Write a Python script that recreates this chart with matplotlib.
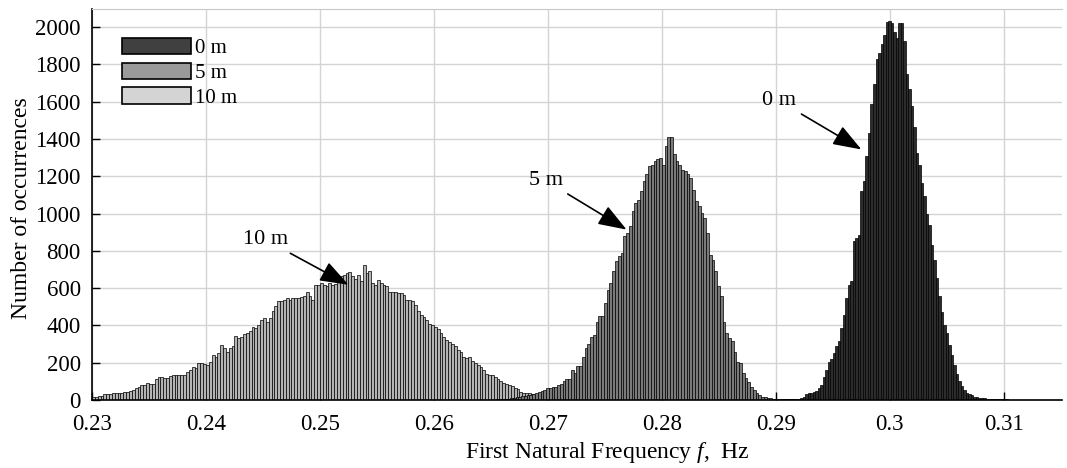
import matplotlib
matplotlib.use("Agg")
import matplotlib.pyplot as plt
import numpy as np

plt.rcParams['font.family'] = ['Liberation Serif', 'DejaVu Serif']
plt.rcParams['mathtext.fontset'] = 'custom'
plt.rcParams['mathtext.rm'] = 'Liberation Serif'
plt.rcParams['mathtext.it'] = 'Liberation Serif:italic'

# histogram of first natural frequency (Hz), bins: start edge + width
start_10m = 0.23
width_10m = 0.00025
counts_10m = [18, 18, 20, 22, 30, 30, 32, 36, 36, 38,
              40, 45, 45, 50, 54, 65, 72, 81, 78, 90,
              88, 86, 110, 125, 125, 120, 116, 129, 134, 134,
              135, 134, 136, 150, 161, 179, 170, 197, 201, 195,
              188, 206, 242, 233, 250, 296, 278, 260, 278, 290,
              344, 335, 337, 355, 358, 370, 394, 385, 403, 430,
              439, 421, 440, 475, 502, 529, 530, 538, 547, 538,
              545, 547, 547, 550, 556, 582, 556, 538, 618, 618,
              627, 618, 613, 627, 618, 620, 645, 663, 672, 681,
              685, 663, 649, 672, 636, 726, 681, 690, 627, 618,
              645, 627, 618, 613, 582, 582, 582, 573, 573, 565,
              538, 538, 529, 511, 475, 457, 444, 430, 410, 403,
              390, 380, 358, 337, 323, 309, 300, 290, 269, 260,
              233, 224, 233, 210, 197, 188, 175, 161, 140, 134,
              134, 125, 111, 104, 93, 86, 80, 75, 63, 57,
              45, 39, 39, 39, 30, 27, 27, 25, 22, 20,
              18, 16, 15, 14, 12, 12, 10, 10, 9, 8,
              7, 6, 6, 5, 5, 4, 4, 3, 3, 2]

start_5m = 0.26548
width_5m = 0.000242
counts_5m = [3, 4, 5, 6, 8, 10, 12, 15, 18,
             20, 22, 25, 28, 30, 35, 42, 50, 55, 63,
             65, 72, 72, 80, 85, 100, 111, 110, 161, 143,
             183, 180, 233, 278, 301, 340, 349, 416, 451, 449,
             520, 591, 627, 690, 744, 771, 789, 878, 896, 936,
             1013, 1057, 1075, 1120, 1174, 1210, 1254, 1263, 1281, 1294,
             1299, 1263, 1362, 1412, 1412, 1317, 1281, 1263, 1236, 1227,
             1210, 1192, 1129, 1066, 1039, 1003, 976, 896, 780, 753,
             690, 609, 556, 421, 358, 332, 314, 260, 206, 197,
             143, 116, 98, 72, 54, 39, 27, 18, 18, 9,
             9, 8, 8, 5, 5, 4, 4, 3, 3, 2, 2]

start_0m = 0.2906
width_0m = 0.00022
counts_0m = [3, 3, 4, 5, 5, 6, 8, 10, 14, 30,
             36, 38, 45, 50, 63, 81, 125, 161, 206, 220,
             252, 287, 314, 386, 457, 548, 618, 640, 851, 870,
             887, 1120, 1174, 1308, 1434, 1586, 1694, 1828, 1864, 1909,
             1960, 2029, 2034, 2021, 1975, 1944, 2021, 2021, 1927, 1747,
             1667, 1577, 1462, 1326, 1263, 1165, 1093, 1000, 940, 833,
             753, 654, 560, 470, 400, 358, 296, 240, 188, 140,
             100, 75, 54, 40, 30, 25, 18, 16, 12, 10,
             9, 8, 7, 6, 5, 5, 4, 4, 3, 3, 2]

labels = ['0 m', '5 m', '10 m']

fig = plt.figure(figsize=(10.67, 4.68), dpi=100)
ax = fig.add_axes([0.0862, 0.1453, 0.9091, 0.8365])

series = [
    (start_10m, width_10m, counts_10m, '#b4b4b4'),
    (start_5m, width_5m, counts_5m, '#7a7a7a'),
    (start_0m, width_0m, counts_0m, '#2c2c2c'),
]
for start, w, counts, col in series:
    edges = start + w * np.arange(len(counts))
    ax.bar(edges, counts, width=w, align='edge', color=col,
           edgecolor='black', linewidth=0.5, zorder=2)

ax.set_xlim(0.23, 0.3151)
ax.set_ylim(0, 2100)
ax.set_xticks(np.arange(0.23, 0.3101, 0.01))
ax.set_xticklabels(['0.23', '0.24', '0.25', '0.26', '0.27', '0.28', '0.29', '0.3', '0.31'])
ax.set_yticks(np.arange(0, 2001, 200))
ax.grid(True, color='#d4d4d4', linewidth=1.0, zorder=0)
ax.set_axisbelow(True)
ax.tick_params(direction='in', length=6, width=1, labelsize=16.5)
ax.tick_params(axis='x', pad=10)
ax.tick_params(axis='y', pad=8)

ax.spines['right'].set_visible(False)
ax.spines['top'].set_color('#c8c8c8')
ax.spines['left'].set_linewidth(1.2)
ax.spines['bottom'].set_linewidth(1.2)

ax.set_xlabel('First Natural Frequency $f$,  Hz', fontsize=17)
ax.xaxis.set_label_coords(0.531, -0.103)
ax.set_ylabel('Number of occurrences', fontsize=17)
ax.yaxis.set_label_coords(-0.062, 0.49)

# legend in the order 0 m, 5 m, 10 m
handles = [plt.Rectangle((0, 0), 1, 1, facecolor=c, edgecolor='black', linewidth=1.2)
           for c in ['#404040', '#9a9a9a', '#d4d4d4']]
ax.legend(handles, labels, loc='upper left', bbox_to_anchor=(0.031, 0.925),
          frameon=False, fontsize=15, handlelength=3.3, handleheight=0.85,
          handletextpad=0.2, labelspacing=0.2, borderpad=0, borderaxespad=0)

arrow = dict(arrowstyle='-|>,head_length=1.1,head_width=0.4', color='black',
             lw=1.2, shrinkA=2, shrinkB=0)
ax.annotate('0 m', xy=(0.2975, 1344), xytext=(0.2903, 1604),
            ha='center', va='center', fontsize=16, arrowprops=arrow)
ax.annotate('5 m', xy=(0.2769, 914), xytext=(0.2698, 1177),
            ha='center', va='center', fontsize=16, arrowprops=arrow)
ax.annotate('10 m', xy=(0.2525, 618), xytext=(0.2452, 860),
            ha='center', va='center', fontsize=16, arrowprops=arrow)

fig.savefig('out.png', dpi=100)
